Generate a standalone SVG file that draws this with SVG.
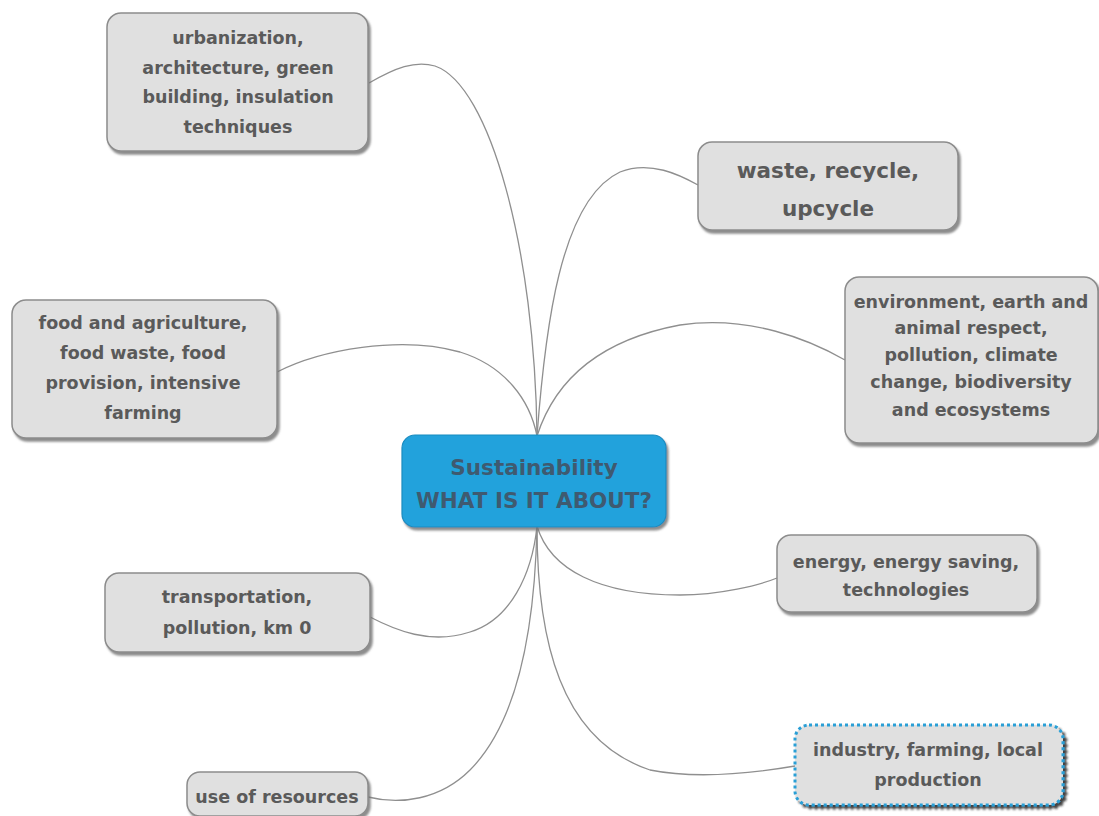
<svg xmlns="http://www.w3.org/2000/svg" width="1099" height="816" viewBox="0 0 1099 816">
<style>
.box{fill:#e0e0e0;stroke:#8c8c8c;stroke-width:1.5}
.t{font-family:"DejaVu Sans","Open Sans",sans-serif;font-weight:700;font-size:17.5px;fill:#5a5a5a;text-anchor:middle}
.big{font-size:21.5px}
.ct{font-family:"DejaVu Sans","Open Sans",sans-serif;font-weight:700;font-size:21.5px;fill:#3f5a70;text-anchor:middle}
.edge{fill:none;stroke:#8f8f8f;stroke-width:1.3}
</style>
<defs>
<filter id="sh" x="-10%" y="-10%" width="130%" height="130%">
<feDropShadow dx="2" dy="3" stdDeviation="1.2" flood-color="#6f6f6f" flood-opacity="0.8"/>
</filter>
<filter id="shd" x="-10%" y="-10%" width="130%" height="130%">
<feDropShadow dx="3" dy="3" stdDeviation="1" flood-color="#1a1a1a" flood-opacity="0.85"/>
</filter>
</defs>
<rect width="1099" height="816" fill="#ffffff"/>
<g id="connectors">
<path class="edge" d="M369,83 C395,68 415,60 435,66 C490,85 535,250 537,436"/>
<path class="edge" d="M537,436 C545,330 560,200 620,172 C650,160 680,175 698,185"/>
<path class="edge" d="M537,436 C555,380 600,340 680,325 C750,315 810,340 845,360"/>
<path class="edge" d="M277,372 C320,350 400,335 460,352 C505,366 530,400 537,436"/>
<path class="edge" d="M370,617 C395,630 430,645 470,632 C510,620 532,575 537,526"/>
<path class="edge" d="M368,797 C400,805 440,800 470,770 C520,720 535,620 537,526"/>
<path class="edge" d="M537,526 C550,570 600,595 680,595 C720,595 760,585 777,578"/>
<path class="edge" d="M537,526 C537,640 560,740 650,770 C700,780 760,772 795,766"/>
</g>
<g id="center">
<rect x="402" y="435" width="264" height="92" rx="13" fill="#24a2dc" stroke="#1a8cc0" stroke-width="1.2" filter="url(#sh)"/>
<text class="ct" x="534" y="475">Sustainability</text>
<text class="ct" x="534" y="508">WHAT IS IT ABOUT?</text>
</g>
<g id="urbanization">
<rect class="box" x="107" y="13" width="261" height="138" rx="14" filter="url(#sh)"/>
<text class="t" x="238" y="44">urbanization,</text>
<text class="t" x="238" y="74">architecture, green</text>
<text class="t" x="238" y="103">building, insulation</text>
<text class="t" x="238" y="133">techniques</text>
</g>
<g id="waste">
<rect class="box" x="698" y="142" width="260" height="88" rx="14" filter="url(#sh)"/>
<text class="t big" x="828" y="178">waste, recycle,</text>
<text class="t big" x="828" y="216">upcycle</text>
</g>
<g id="environment">
<rect class="box" x="845" y="277" width="253" height="166" rx="14" filter="url(#sh)"/>
<text class="t" x="971" y="308">environment, earth and</text>
<text class="t" x="971" y="334">animal respect,</text>
<text class="t" x="971" y="361">pollution, climate</text>
<text class="t" x="971" y="388">change, biodiversity</text>
<text class="t" x="971" y="416">and ecosystems</text>
</g>
<g id="food">
<rect class="box" x="12" y="300" width="265" height="138" rx="14" filter="url(#sh)"/>
<text class="t" x="143" y="329">food and agriculture,</text>
<text class="t" x="143" y="359">food waste, food</text>
<text class="t" x="143" y="389">provision, intensive</text>
<text class="t" x="143" y="419">farming</text>
</g>
<g id="transportation">
<rect class="box" x="105" y="573" width="265" height="79" rx="14" filter="url(#sh)"/>
<text class="t" x="237" y="603">transportation,</text>
<text class="t" x="237" y="634">pollution, km 0</text>
</g>
<g id="resources">
<rect class="box" x="187" y="772" width="181" height="44" rx="13" filter="url(#sh)"/>
<text class="t" x="277" y="803">use of resources</text>
</g>
<g id="energy">
<rect class="box" x="777" y="535" width="260" height="77" rx="14" filter="url(#sh)"/>
<text class="t" x="906" y="568">energy, energy saving,</text>
<text class="t" x="906" y="596">technologies</text>
</g>
<g id="industry">
<rect x="795" y="725" width="268" height="80" rx="14" fill="#e0e0e0" stroke="#2a9fd6" stroke-width="3" stroke-dasharray="3 3" filter="url(#shd)"/>
<text class="t" x="928" y="756">industry, farming, local</text>
<text class="t" x="928" y="786">production</text>
</g>
</svg>
